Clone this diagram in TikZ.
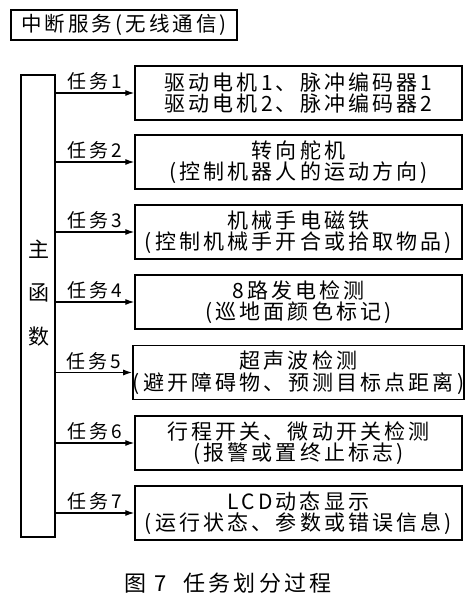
\documentclass[tikz,border=0pt]{standalone}
\usepackage{fontspec}
\newfontfamily\cjk[LetterSpace=15]{Noto Sans CJK SC}
\usetikzlibrary{arrows.meta,positioning}

\tikzset{
  taskbox/.style={draw,line width=1.4pt,minimum width=327pt,minimum height=54pt,
    align=center,inner sep=0pt},
  taskarrow/.style={-{Latex[length=9pt,width=6pt]},line width=1.2pt},
  tasklabel/.style={above,inner sep=2pt,font=\cjk\fontsize{19}{21}\selectfont}
}

\begin{document}
\begin{tikzpicture}[x=1pt,y=-1pt,font=\cjk\fontsize{21}{21.5}\selectfont]
  \useasboundingbox (0,0) rectangle (467,593);
  \node[draw,line width=1.4pt,minimum width=226pt,minimum height=30pt,inner sep=0pt,
    font=\cjk\fontsize{20.5}{21}\selectfont]
    (irq) at (124,25) {中断服务(无线通信)};
  \node[draw,line width=1.4pt,minimum width=34pt,minimum height=462pt,inner sep=0pt]
    (main) at (38,306) {\raisebox{8pt}[0pt][0pt]{\parbox{20pt}{\centering 主\\[22pt]函\\[22pt]数}}};
  \node[taskbox] (t1) at (298.5,93) {驱动电机1、脉冲编码器1\\驱动电机2、脉冲编码器2};
  \node[taskbox] (t2) at (298.5,162) {转向舵机\\(控制机器人的运动方向)};
  \node[taskbox] (t3) at (298.5,232) {机械手电磁铁\\(控制机械手开合或拾取物品)};
  \node[taskbox] (t4) at (298.5,302) {8路发电检测\\(巡地面颜色标记)};
  \node[taskbox] (t5) at (298.5,372.5) {超声波检测\\(避开障碍物、预测目标点距离)};
  \node[taskbox] (t6) at (298.5,443) {行程开关、微动开关检测\\(报警或置终止标志)};
  \node[taskbox] (t7) at (298.5,513) {LCD动态显示\\(运行状态、参数或错误信息)};
  \draw[taskarrow] (t1.west -| main.east) -- node[tasklabel] {任务1} (t1.west);
  \draw[taskarrow] (t2.west -| main.east) -- node[tasklabel] {任务2} (t2.west);
  \draw[taskarrow] (t3.west -| main.east) -- node[tasklabel] {任务3} (t3.west);
  \draw[taskarrow] (t4.west -| main.east) -- node[tasklabel] {任务4} (t4.west);
  \draw[taskarrow] (t5.west -| main.east) -- node[tasklabel] {任务5} (t5.west);
  \draw[taskarrow] (t6.west -| main.east) -- node[tasklabel] {任务6} (t6.west);
  \draw[taskarrow] (t7.west -| main.east) -- node[tasklabel] {任务7} (t7.west);
  \node[font=\cjk\fontsize{22}{24}\selectfont] (cap) at (228,583) {图 7\ \ 任务划分过程};
\end{tikzpicture}
\end{document}
